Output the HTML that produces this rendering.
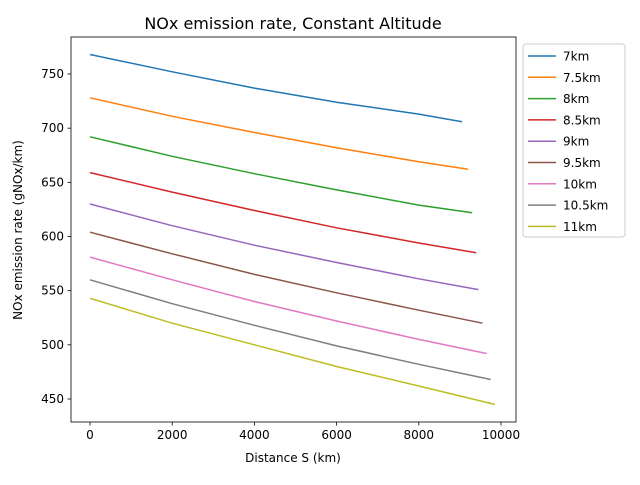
<!DOCTYPE html>
<html><head><meta charset="utf-8"><style>
body{margin:0;background:#fff;font-family:"Liberation Sans","DejaVu Sans",sans-serif;}
</style></head><body>
<svg id="chart" width="640" height="480" xmlns="http://www.w3.org/2000/svg" font-family="DejaVu Sans, Liberation Sans, sans-serif">
<rect width="640" height="480" fill="#fff"/>
<text x="293" y="29" font-size="16" text-anchor="middle">NOx emission rate, Constant Altitude</text>
<g id="plot"></g>
<text x="293" y="462" font-size="12" text-anchor="middle">Distance S (km)</text>
<text transform="translate(22,230) rotate(-90)" font-size="12" text-anchor="middle">NOx emission rate (gNOx/km)</text>
</svg>
<script>
const seriesNames=["7km","7.5km","8km","8.5km","9km","9.5km","10km","10.5km","11km"];
const colors=["#1f77b4","#ff7f0e","#2ca02c","#d62728","#9467bd","#8c564b","#e377c2","#7f7f7f","#bcbd22"];
const xBase=[0,2000,4000,6000,8000];
const xEnd=[9050,9200,9300,9400,9450,9550,9650,9750,9850];
const s7=[768,752,737,724,713,706];
const s75=[728,711,696,682,669,662];
const s8=[692,674,658,643,629,622];
const s85=[659,641,624,608,594,585];
const s9=[630,610,592,576,561,551];
const s95=[604,584,565,548,532,520];
const s10=[581,560,540,522,505,492];
const s105=[560,538,518,499,482,468];
const s11=[543,520,500,480,462,445];
const allSeries=[s7,s75,s8,s85,s9,s95,s10,s105,s11];
const xTicks=[0,2000,4000,6000,8000,10000];
const yTicks=[450,500,550,600,650,700,750];
const NS="http://www.w3.org/2000/svg";
const L=71,R=516,T=37,B=422;
const xs=v=>90+v*(501-90)/10000;
const ys=v=>74+(750-v)*(399-74)/300;
const g=document.getElementById('plot');
function mk(t,a){const e=document.createElementNS(NS,t);for(const k in a)e.setAttribute(k,a[k]);return e;}
allSeries.forEach((s,i)=>{
  const xv=xBase.concat([xEnd[i]]);
  const pts=s.map((v,j)=>xs(xv[j]).toFixed(1)+","+ys(v).toFixed(1)).join(" ");
  const p=mk('polyline',{points:pts,fill:'none',stroke:colors[i],'stroke-width':1.5});
  
  
  g.appendChild(p);
});
const frame=mk('rect',{x:L,y:T,width:R-L,height:B-T,fill:'none',stroke:'#000','stroke-width':0.8});


g.appendChild(frame);
xTicks.forEach(v=>{
  const x=xs(v);
  const t=mk('line',{x1:x,x2:x,y1:B,y2:B+3.5,stroke:'#000','stroke-width':0.8});
  
  
  g.appendChild(t);
  const l=mk('text',{x:x,y:B+17,'font-size':12,'text-anchor':'middle'});
  
  
  l.textContent=v;g.appendChild(l);
});
yTicks.forEach(v=>{
  const y=ys(v);
  const t=mk('line',{x1:L-3.5,x2:L,y1:y,y2:y,stroke:'#000','stroke-width':0.8});
  
  
  g.appendChild(t);
  const l=mk('text',{x:L-7,y:y+4,'font-size':12,'text-anchor':'end'});
  
  
  l.textContent=v;g.appendChild(l);
});
const lg=mk('rect',{x:523,y:44,width:102,height:193,rx:3,fill:'#fff',stroke:'#ccc','stroke-width':1});


g.appendChild(lg);
seriesNames.forEach((n,i)=>{
  const y=56+i*21.3;
  const ln=mk('line',{x1:528,x2:556,y1:y,y2:y,stroke:colors[i],'stroke-width':1.5});
  
  
  g.appendChild(ln);
  const tx=mk('text',{x:563,y:y+4.5,'font-size':12});
  
  
  tx.textContent=n;g.appendChild(tx);
});
</script>
</body></html>
